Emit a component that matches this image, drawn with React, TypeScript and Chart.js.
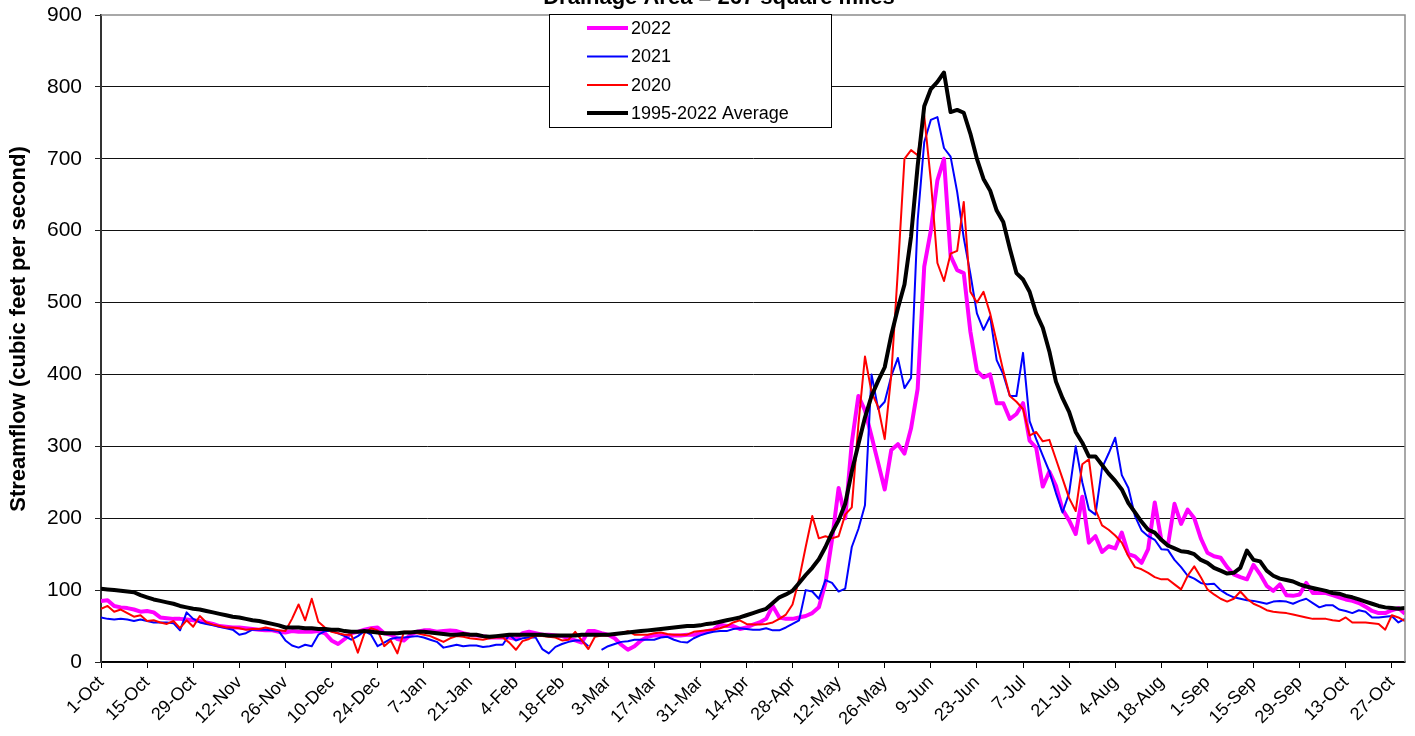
import React, { useEffect, useRef } from 'react';
import { Chart, registerables } from 'chart.js';

Chart.register(...registerables);

const FONT = '"Liberation Sans", Arial, Helvetica, sans-serif';

const CHART_TITLE = 'Drainage Area = 267 square miles';
const Y_TITLE = 'Streamflow (cubic feet per second)';

// x tick labels, one every 14 days starting 1-Oct
const TICK_LABELS = [
  '1-Oct', '15-Oct', '29-Oct', '12-Nov', '26-Nov', '10-Dec', '24-Dec', '7-Jan', '21-Jan', '4-Feb',
  '18-Feb', '3-Mar', '17-Mar', '31-Mar', '14-Apr', '28-Apr', '12-May', '26-May', '9-Jun', '23-Jun',
  '7-Jul', '21-Jul', '4-Aug', '18-Aug', '1-Sep', '15-Sep', '29-Sep', '13-Oct', '27-Oct',
];
const TICK_STEP_DAYS = 14;
const LAST_DAY = 396;
const DAY_STEP = 2; // values below are read every 2 days, day 0 = 1-Oct

const SERIES_LABELS = ['2022', '2021', '2020', '1995-2022 Average'];

const FLOW_2022 = [
  85, 86, 78, 76, 75, 73, 70, 71, 69, 62,
  61, 60, 60, 59, 58, 57, 55, 53, 50, 49,
  48, 48, 47, 46, 45, 44, 44, 42, 41, 43,
  42, 42, 42, 43, 40, 30, 25, 32, 40, 42,
  45, 47, 48, 40, 38, 32, 30, 38, 42, 44,
  44, 42, 43, 44, 43, 40, 38, 37, 36, 34,
  34, 34, 34, 32, 40, 42, 40, 38, 38, 37,
  36, 33, 30, 27, 43, 43, 40, 38, 33, 24,
  17, 22, 30, 35, 37, 37, 36, 37, 37, 38,
  38, 40, 43, 45, 52, 50, 50, 46, 48, 52,
  55, 60, 78, 62, 60, 60, 62, 64, 68, 76,
  110, 170, 242, 200, 305, 370, 350, 314, 277, 240,
  295, 303, 290, 325, 380, 550, 600, 670, 700, 565,
  545, 541, 460, 405, 396, 400, 360, 360, 338, 345,
  360, 308, 298, 244, 265, 245, 212, 197, 178, 230,
  166, 175, 153, 161, 158, 180, 150, 147, 138, 157,
  222, 170, 162, 220, 192, 212, 200, 172, 152, 147,
  145, 132, 122, 118, 115, 135, 122, 106, 99, 108,
  93, 92, 94, 110, 96, 96, 96, 93, 90, 87,
  85, 82, 77, 71, 68, 68, 72, 75, 67,
];

const FLOW_2021 = [
  62, 60, 59, 60, 59, 57, 59, 57, 55, 55,
  55, 54, 44, 69, 60, 55, 53, 51, 49, 47,
  45, 38, 40, 45, 45, 45, 44, 43, 30, 23,
  20, 24, 22, 38, 43, 43, 40, 36, 31, 36,
  43, 38, 22, 27, 32, 34, 34, 35, 36, 34,
  31, 28, 20, 22, 24, 22, 23, 23, 21, 22,
  24, 24, 38, 30, 33, 34, 34, 18, 12, 21,
  25, 28, 30, 30, 22, null, 17, 22, 25, 28,
  29, 31, 31, 31, 31, 34, 35, 31, 28, 27,
  33, 37, 40, 42, 43, 43, 46, 47, 46, 45,
  45, 47, 44, 44, 48, 53, 58, 100, 98, 88,
  114, 110, 98, 102, 160, 185, 218, 400, 352, 362,
  398, 423, 381, 395, 614, 723, 754, 758, 715, 703,
  654, 590, 540, 485, 462, 481, 420, 400, 370, 370,
  430, 335, 310, 287, 265, 235, 208, 235, 300, 250,
  212, 205, 270, 290, 312, 260, 242, 203, 183, 175,
  170, 157, 156, 142, 132, 120, 116, 110, 108, 109,
  100, 94, 90, 88, 86, 85, 83, 81, 84, 85,
  84, 81, 85, 88, 82, 76, 79, 79, 73, 71,
  68, 72, 70, 62, 62, 63, 64, 55, 60,
];

const FLOW_2020 = [
  74, 78, 70, 73, 68, 63, 65, 57, 58, 55,
  53, 57, 47, 58, 49, 64, 55, 52, 50, 48,
  48, 47, 45, 46, 46, 48, 46, 44, 43, 60,
  80, 58, 88, 56, 48, 42, 40, 38, 38, 13,
  40, 47, 44, 22, 30, 12, 42, 42, 40, 38,
  36, 32, 28, 33, 36, 35, 33, 32, 31, 33,
  34, 34, 27, 17, 29, 32, 37, 36, 35, 34,
  30, 31, 42, 30, 18, 35, 37, 37, 38, 40,
  43, 38, 38, 38, 40, 41, 39, 38, 38, 38,
  42, 43, 44, 45, 47, 50, 55, 58, 53, 52,
  52, 53, 55, 60, 66, 80, 115, 160, 203, 172,
  175, 172, 175, 205, 215, 330, 425, 375, 355, 310,
  400, 545, 700, 712, 705, 760, 670, 555, 530, 568,
  572, 640, 515, 500, 515, 485, 445, 405, 370, 362,
  352, 315, 320, 307, 309, 282, 255, 228, 210, 275,
  282, 212, 190, 184, 176, 166, 147, 132, 129, 124,
  118, 115, 115, 108, 101, 120, 133, 118, 101, 94,
  88, 84, 88, 98, 88, 81, 77, 72, 70, 69,
  68, 66, 64, 62, 60, 60, 60, 58, 57, 62,
  55, 55, 55, 54, 53, 45, 65, 62, 57,
];

const FLOW_AVG = [
  102, 101, 100, 99, 98, 97, 93, 90, 87, 85,
  83, 81, 78, 76, 74, 73, 71, 69, 67, 65,
  63, 62, 60, 58, 57, 55, 53, 51, 48, 48,
  48, 47, 47, 46, 46, 45, 45, 43, 42, 42,
  43, 42, 41, 40, 40, 40, 41, 41, 42, 42,
  41, 40, 39, 38, 38, 39, 38, 38, 36, 35,
  36, 37, 38, 38, 38, 38, 38, 38, 37, 37,
  37, 37, 37, 38, 38, 38, 38, 38, 39, 40,
  41, 42, 43, 44, 45, 46, 47, 48, 49, 50,
  50, 51, 53, 54, 56, 58, 60, 62, 65, 68,
  71, 74, 82, 90, 94, 99, 110, 121, 131, 143,
  160, 180, 197, 220, 265, 303, 340, 370, 391, 410,
  455, 492, 525, 592, 690, 773, 797, 807, 820, 765,
  768, 764, 735, 700, 672, 656, 628, 612, 575, 541,
  532, 515, 485, 465, 432, 390, 367, 348, 320, 305,
  286, 286, 274, 262, 252, 240, 221, 208, 195, 184,
  180, 170, 162, 158, 154, 153, 150, 142, 138, 131,
  127, 123, 124, 131, 155, 142, 140, 127, 120, 116,
  114, 112, 108, 105, 103, 101, 99, 96, 95, 92,
  90, 87, 84, 81, 78, 76, 75, 74, 75,
];

const SERIES_COLORS = ['#FF00FF', '#0000FF', '#FF0000', '#000000'];
const SERIES_WIDTHS = [4, 2, 2, 4];

function toPoints(values: (number | null)[]) {
  return values.map((v, i) => ({ x: i * DAY_STEP, y: v }));
}

export default function App() {
  const ref = useRef<HTMLCanvasElement>(null);

  useEffect(() => {
    const canvas = ref.current;
    if (!canvas) return;

    const overlay = {
      id: 'overlay',
      afterDraw(chart: any) {
        const { ctx, chartArea: a } = chart;
        ctx.save();
        // plot frame (top and right)
        ctx.strokeStyle = '#8c8c8c';
        ctx.lineWidth = 1.5;
        ctx.beginPath();
        ctx.moveTo(a.left, a.top);
        ctx.lineTo(a.right, a.top);
        ctx.lineTo(a.right, a.bottom);
        ctx.stroke();

        // legend box
        const lx = 549, ly = 14, lw = 282, lh = 113;
        ctx.fillStyle = '#ffffff';
        ctx.fillRect(lx, ly, lw, lh);
        ctx.strokeStyle = '#000';
        ctx.lineWidth = 1;
        ctx.strokeRect(lx + 0.5, ly + 0.5, lw, lh);
        ctx.font = `18px ${FONT}`;
        ctx.textBaseline = 'middle';
        ctx.textAlign = 'left';
        const rows = [28, 56.5, 85, 113];
        chart.data.datasets.forEach((ds: any, i: number) => {
          const y = rows[i];
          ctx.strokeStyle = ds.borderColor;
          ctx.lineWidth = ds.borderWidth;
          ctx.beginPath();
          ctx.moveTo(587, y);
          ctx.lineTo(628, y);
          ctx.stroke();
          ctx.fillStyle = '#000';
          ctx.fillText(ds.label, 631, y + 1);
        });

        // chart title (partly above the canvas)
        ctx.fillStyle = '#000';
        ctx.font = `bold 22px ${FONT}`;
        ctx.textAlign = 'center';
        ctx.textBaseline = 'alphabetic';
        ctx.fillText(CHART_TITLE, 719, 4);

        // y axis title
        ctx.translate(19, 329);
        ctx.rotate(-Math.PI / 2);
        ctx.textBaseline = 'middle';
        ctx.fillText(Y_TITLE, 0, 0);
        ctx.restore();
      },
    };

    const datasets = [FLOW_2022, FLOW_2021, FLOW_2020, FLOW_AVG].map((vals, i) => ({
      label: SERIES_LABELS[i],
      data: toPoints(vals),
      borderColor: SERIES_COLORS[i],
      backgroundColor: SERIES_COLORS[i],
      borderWidth: SERIES_WIDTHS[i],
      pointRadius: 0,
      tension: 0,
      borderJoinStyle: 'round' as const,
      spanGaps: false,
      order: 3 - i,
    }));

    const chart = new Chart(canvas, {
      type: 'line',
      data: { datasets },
      options: {
        animation: false,
        responsive: false,
        events: [],
        layout: { padding: { top: 15, right: 10, left: 0, bottom: 0 } },
        plugins: {
          legend: { display: false },
          tooltip: { enabled: false },
          title: { display: false },
        },
        scales: {
          x: {
            type: 'linear',
            min: 0,
            max: LAST_DAY,
            afterBuildTicks: (scale: any) => {
              scale.ticks = TICK_LABELS.map((_, i) => ({ value: i * TICK_STEP_DAYS }));
            },
            afterFit: (scale: any) => {
              scale.height = 74;
              scale.paddingLeft = 0;
              scale.paddingRight = 0;
            },
            ticks: {
              autoSkip: false,
              maxRotation: 45,
              minRotation: 45,
              padding: 4,
              color: '#000',
              font: { family: FONT, size: 18 },
              callback: (v: any) => TICK_LABELS[Math.round(Number(v) / TICK_STEP_DAYS)] ?? '',
            },
            grid: {
              drawOnChartArea: false,
              drawTicks: true,
              tickLength: 6,
              color: '#000',
              tickColor: '#000',
            },
            border: { display: true, color: '#000', width: 1.5 },
          },
          y: {
            type: 'linear',
            min: 0,
            max: 900,
            afterFit: (scale: any) => {
              scale.width = 101;
              scale.paddingTop = 0;
              scale.paddingBottom = 0;
            },
            ticks: {
              stepSize: 100,
              padding: 13,
              color: '#000',
              font: { family: FONT, size: 21 },
            },
            grid: {
              drawOnChartArea: true,
              drawTicks: true,
              tickLength: 6,
              color: (c: any) => (c.tick && c.tick.value === 900 ? 'rgba(0,0,0,0)' : '#111'),
              tickColor: '#222',
              lineWidth: 1,
            },
            border: { display: true, color: '#333', width: 2 },
          },
        },
      },
      plugins: [overlay],
    });

    return () => chart.destroy();
  }, []);

  return (
    <div style={{ position: 'absolute', left: 0, top: 0, width: 1415, height: 736, background: '#fff' }}>
      <canvas ref={ref} width={1415} height={736} style={{ display: 'block' }} />
    </div>
  );
}
